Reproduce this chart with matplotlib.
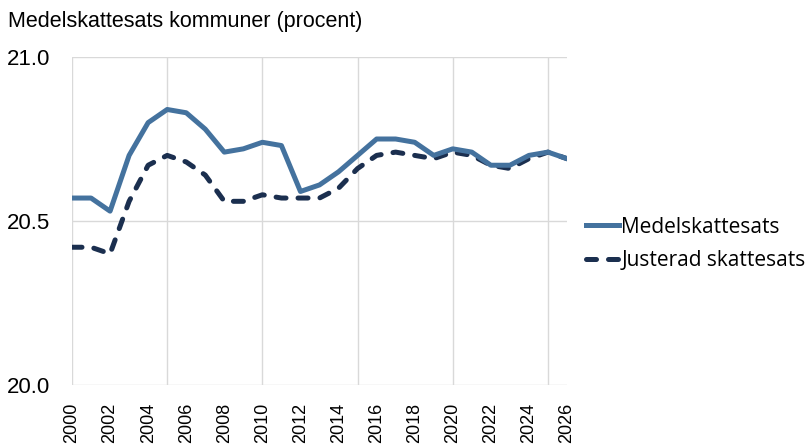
import matplotlib.pyplot as plt

years = list(range(2000, 2027))
medel = [20.57, 20.57, 20.53, 20.70, 20.80, 20.84, 20.83, 20.78, 20.71, 20.72,
         20.74, 20.73, 20.59, 20.61, 20.65, 20.70, 20.75, 20.75, 20.74, 20.70,
         20.72, 20.71, 20.67, 20.67, 20.70, 20.71, 20.69]
justerad = [20.42, 20.42, 20.40, 20.56, 20.67, 20.70, 20.68, 20.64, 20.56, 20.56,
            20.58, 20.57, 20.57, 20.57, 20.60, 20.66, 20.70, 20.71, 20.70, 20.69,
            20.71, 20.70, 20.67, 20.66, 20.69, 20.71, 20.69]
yticks = [20.0, 20.5, 21.0]
xticks = list(range(2000, 2027, 2))
grid_years = [2005, 2010, 2015, 2020, 2025]

fig = plt.figure(figsize=(8.06, 4.46), dpi=100)
ax = fig.add_axes([72 / 806, 1 - 385 / 446, 495 / 806, 328 / 446])

gc = '#d9d9d9'
for y in yticks:
    ax.axhline(y, color=gc, lw=1, zorder=0)
ax.axvline(2000, color=gc, lw=1, zorder=0)
for g in grid_years:
    ax.axvline(g, color=gc, lw=1, zorder=0)

ax.plot(years, medel, color='#44729e', lw=3.6, label='Medelskattesats',
        solid_joinstyle='round', zorder=3)
ax.plot(years, justerad, color='#1b2f4f', lw=3.6, ls=(0, (2.0, 2.4)),
        dash_capstyle='round', label='Justerad skattesats', zorder=2)

ax.set_xlim(2000, 2026)
ax.set_ylim(20.0, 21.0)
ax.set_yticks(yticks)
ax.set_yticklabels(['%.1f' % v for v in yticks], family='Liberation Sans', fontsize=16)
ax.set_xticks(xticks)
ax.set_xticklabels([str(x) for x in xticks], rotation=90, family='Liberation Sans',
                   fontsize=13)
ax.tick_params(axis='y', length=0, pad=16)
ax.tick_params(axis='x', length=0, pad=13)
for s in ax.spines.values():
    s.set_visible(False)

fig.text(8 / 806, 1 - 21 / 446, 'Medelskattesats kommuner (procent)', fontsize=15.5,
         family='Liberation Sans', va='center', ha='left')

leg = ax.legend(loc='center left', bbox_to_anchor=(1.0, 0.43), frameon=False,
                prop={'family': 'Open Sans', 'size': 15}, handlelength=1.6,
                handletextpad=0.1, labelspacing=0.6)

fig.savefig('out.png', dpi=100)
